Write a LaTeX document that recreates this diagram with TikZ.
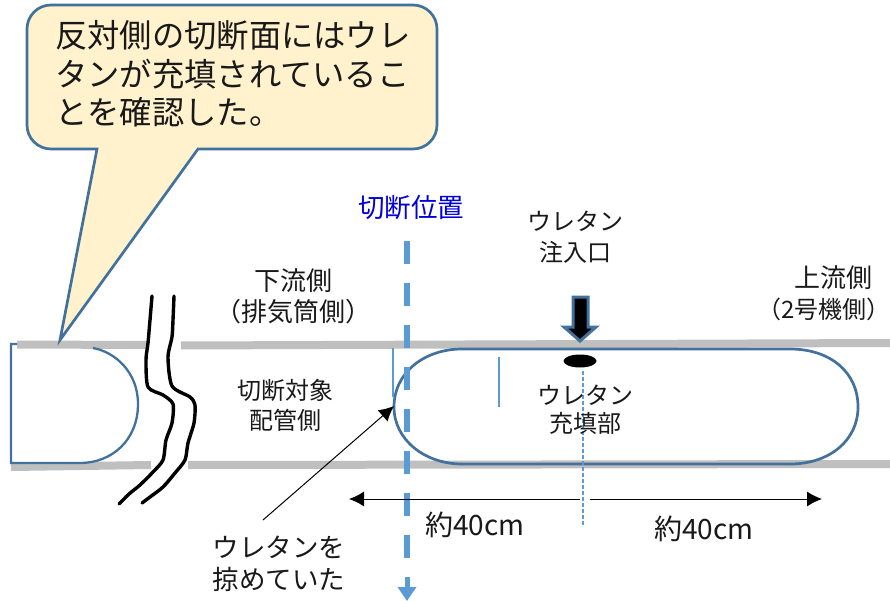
\documentclass[tikz,border=0pt]{standalone}
\usepackage{fontspec}
\setmainfont{Noto Sans CJK JP}
\usetikzlibrary{arrows.meta,shapes.geometric}
\definecolor{outl}{HTML}{41719C}
\definecolor{pipeg}{HTML}{BFBFBF}
\definecolor{cutb}{HTML}{5B9BD5}
\definecolor{callfill}{HTML}{FFF2CC}
\tikzset{
  lbl/.style={inner sep=0pt,align=center,text=black!90},
  fs/.style 2 args={font=\fontsize{#1}{#2}\selectfont},
  pipewall/.style={draw=pipeg,line width=8pt},
  outline/.style={draw=outl,line width=2.7pt},
  breakline/.style={draw=black,line width=3.4pt,line cap=round,line join=round},
  thinblue/.style={draw=cutb,line width=1.5pt},
  dimline/.style={draw=black,line width=1pt,-{Latex[length=15pt,width=15pt]}},
}
\begin{document}
\begin{tikzpicture}[x=1pt,y=-1pt]
\useasboundingbox (0,0) rectangle (890,601);
% pipe walls
\draw[pipewall] (17,344.5) -- (147,345);
\draw[pipewall] (181,345.5) -- (890,343);
\draw[pipewall] (11,467) -- (151,465);
\draw[pipewall] (188,465) -- (890,464);
% left plug
\draw[outline,line width=2.3pt] (17,344) -- (11,344) -- (11,463) -- (80,463)
  .. controls (112,463) and (138,440) .. (138,404)
  .. controls (138,372) and (115,352) .. (93,348);
% urethane body
\draw[outline] (462,349) -- (790,349) .. controls (830,349) and (858,372) .. (858,407)
  .. controls (858,440) and (830,464) .. (790,464) -- (462,464)
  .. controls (425,464) and (394,440) .. (394,407)
  .. controls (394,372) and (425,349) .. (462,349) -- cycle;
% break lines
\draw[breakline] plot[smooth,tension=0.45] coordinates {(152,296) (150,320) (148,343) (146,360) (148,387) (163,395) (173,404) (172,423) (166,440) (163,460) (153,472) (140,485) (129,494) (119,504)};
\draw[breakline] plot[smooth,tension=0.45] coordinates {(174,296) (173,320) (172,337) (168,357) (172,386) (190,397) (195,405) (194,423) (188,443) (185,460) (175,473) (163,487) (150,497) (142,503)};
% cut line
\coordinate (cuttop) at (407,241);
\coordinate (cutmid) at (407,577);
\coordinate (cutend) at (407,601);
\draw[draw=cutb,line width=5.5pt,dash pattern=on 23pt off 19pt] (cuttop) -- (cutmid);
\draw[draw=cutb,line width=5pt,-{Triangle[length=14pt,width=18pt]}] (cutmid) -- (cutend);
% thin section marks
\coordinate (m1a) at (393,348); \coordinate (m1b) at (393,397);
\coordinate (m2a) at (499,357); \coordinate (m2b) at (499,407);
\draw[thinblue] (m1a) -- (m1b);
\draw[thinblue] (m2a) -- (m2b);
% centre dashed
\coordinate (ca) at (583,371); \coordinate (cb) at (583,526);
\draw[draw=cutb,line width=1.3pt,dash pattern=on 4pt off 2pt] (ca) -- (cb);
% injection hole
\node[ellipse,fill=black,minimum width=33pt,minimum height=13pt,inner sep=0pt] (hole) at (580,361) {};
% injection arrow
\draw[draw=outl,fill=black,line width=3pt,line join=miter]
  (573,297) -- (573,327) -- (564,327) -- (580,341) -- (596,327) -- (588,327) -- (588,297) -- cycle;
% dimensions
\coordinate (dl) at (349,499); \coordinate (dm1) at (580,499); \coordinate (dm2) at (590,499); \coordinate (dr) at (822,499);
\draw[dimline] (dm1) -- (dl);
\draw[dimline] (dm2) -- (dr);
% leader
\coordinate (la) at (263,520); \coordinate (lb) at (394,406);
\draw[dimline] (la) -- (lb);
% callout
\draw[outline,fill=callfill]
  (51,5) -- (413,5) arc[start angle=-90,end angle=0,radius=24] -- (437,125)
  arc[start angle=0,end angle=90,radius=24] -- (198,149) -- (60,340) -- (97,149) -- (51,149)
  arc[start angle=90,end angle=180,radius=24] -- (27,29)
  arc[start angle=180,end angle=270,radius=24] -- cycle;
% texts
\node[anchor=west,inner sep=0pt,align=left,fs={32.3}{38.5},text=black!90] (call) at (55,74)
  {反対側の切断面にはウレ\\タンが充填されているこ\\とを確認した。};
\node[lbl,fs={26.5}{32},text=blue!85!black] (cutlbl) at (411,208) {切断位置};
\node[lbl,fs={24}{31}] (inj) at (575,237) {ウレタン\\注入口};
\node[lbl,fs={26}{31}] (down) at (293,296) {下流側\\（排気筒側）};
\node[lbl,fs={24}{31}] (up) at (824,293) {\hspace*{18pt}\fontsize{26}{31}\selectfont 上流側\\（2号機側）};
\node[lbl,fs={24}{30}] (target) at (285,405) {切断対象\\配管側};
\node[lbl,fs={24}{28}] (fill) at (585,410) {ウレタン\\充填部};
\node[lbl,fs={28}{32}] (d1) at (475,525) {約40cm};
\node[lbl,fs={28}{32}] (d2) at (704,529) {約40cm};
\node[lbl,fs={26.5}{32}] (scr) at (279,564) {ウレタンを\\掠めていた};
\end{tikzpicture}
\end{document}
